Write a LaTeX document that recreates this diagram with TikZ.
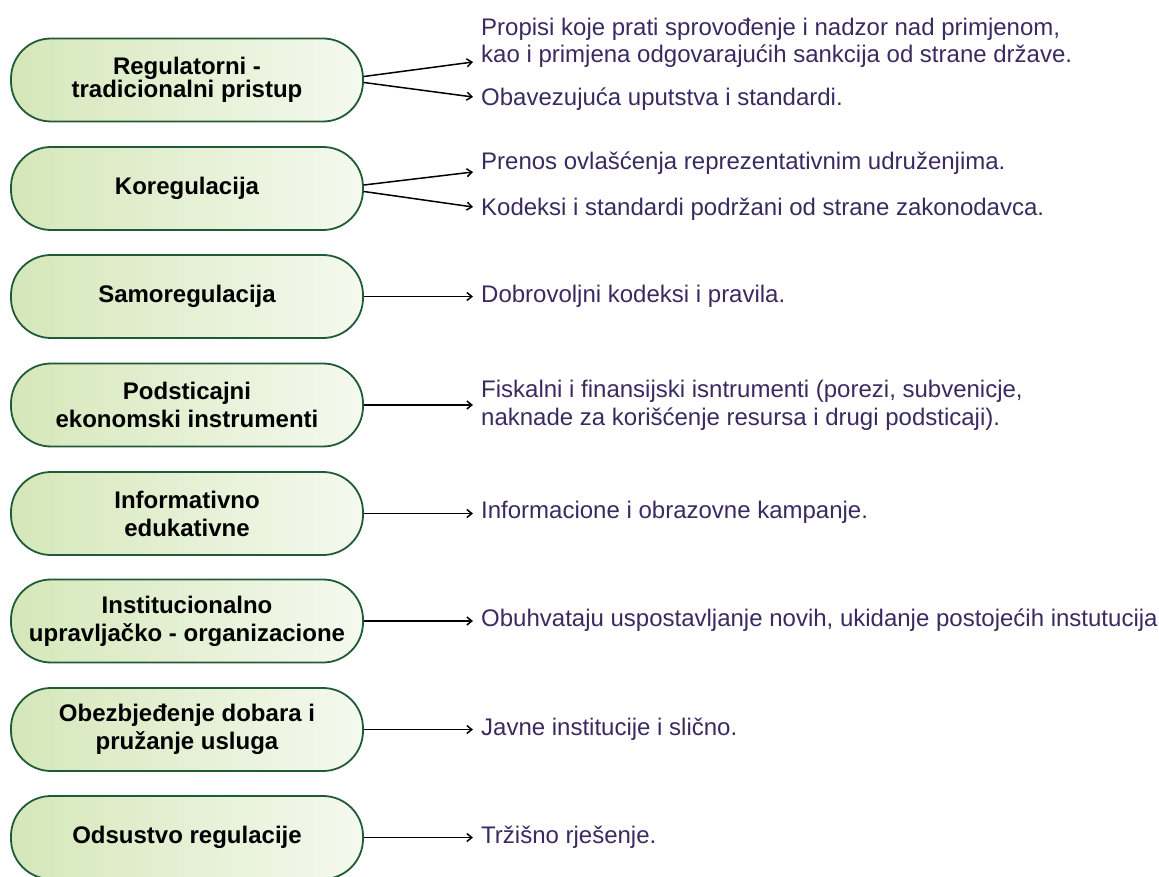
\documentclass[tikz,border=0pt]{standalone}
\usepackage{fontspec}
\setmainfont{Liberation Sans}
\usetikzlibrary{arrows.meta}
\definecolor{boxL}{RGB}{213,231,185}
\definecolor{boxR}{RGB}{245,249,239}
\definecolor{boxB}{RGB}{30,91,54}
\definecolor{txt}{RGB}{58,42,96}
\begin{document}
\begin{tikzpicture}[x=1pt,y=-1pt,
  catbox/.style={draw=boxB, line width=1.8pt, rounded corners=40pt,
    left color=boxL, right color=boxR, minimum width=352pt, minimum height=83pt,
    align=center, inner sep=0pt, font=\fontsize{24}{28}\selectfont\bfseries, text=black},
  desc/.style={anchor=base west, inner sep=0pt, align=left, text=txt,
    font=\fontsize{24}{27.5}\selectfont},
  conn/.style={line width=1.5pt, -{Straight Barb[length=5pt,width=8pt]}}]
\useasboundingbox (0,0) rectangle (1159,877);
% boxes
\node[catbox, font=\fontsize{24}{23.5}\selectfont\bfseries] (b1) at (187,80) {Regulatorni -\\tradicionalni pristup};
\node[catbox] (b2) at (187,188.5) {Koregulacija};
\node[catbox] (b3) at (187,296.5) {Samoregulacija};
\node[catbox] (b4) at (187,405) {Podsticajni\\ekonomski instrumenti};
\node[catbox] (b5) at (187,513.5) {Informativno\\edukativne};
\node[catbox] (b6) at (187,621) {Institucionalno\\upravljačko - organizacione};
\node[catbox] (b7) at (187,729.5) {Obezbjeđenje dobara i\\pružanje usluga};
\node[catbox] (b8) at (187,837.5) {Odsustvo regulacije};
% descriptions
\node[desc] (d1a) at (481,63) {Propisi koje prati sprovođenje i nadzor nad primjenom,\\kao i primjena odgovarajućih sankcija od strane države.};
\node[desc] (d1b) at (481,106) {Obavezujuća uputstva i standardi.};
\node[desc] (d2a) at (481,170) {Prenos ovlašćenja reprezentativnim udruženjima.};
\node[desc] (d2b) at (481,216) {Kodeksi i standardi podržani od strane zakonodavca.};
\node[desc] (d3) at (481,302) {Dobrovoljni kodeksi i pravila.};
\node[desc] (d4) at (481,425) {Fiskalni i finansijski isntrumenti (porezi, subvenicje,\\naknade za korišćenje resursa i drugi podsticaji).};
\node[desc] (d5) at (481,518) {Informacione i obrazovne kampanje.};
\node[desc] (d6) at (481,626) {Obuhvataju uspostavljanje novih, ukidanje postojećih instutucija};
\node[desc] (d7) at (481,735) {Javne institucije i slično.};
\node[desc] (d8) at (481,843) {Tržišno rješenje.};
% arrow targets
\coordinate (e1a) at (473,62);
\coordinate (e1b) at (473,97);
\coordinate (e2a) at (473,172);
\coordinate (e2b) at (473,207);
\coordinate (e3) at (473,296.5);
\coordinate (e4) at (473,405);
\coordinate (e5) at (473,513.5);
\coordinate (e6) at (473,621);
\coordinate (e7) at (473,729.5);
\coordinate (e8) at (473,837.5);
% connectors
\draw[conn] ([yshift=3.5pt]b1.east) -- (e1a);
\draw[conn] ([yshift=-2.5pt]b1.east) -- (e1b);
\draw[conn] ([yshift=3.5pt]b2.east) -- (e2a);
\draw[conn] ([yshift=-3pt]b2.east) -- (e2b);
\draw[conn] (b3.east) -- (e3);
\draw[conn] (b4.east) -- (e4);
\draw[conn] (b5.east) -- (e5);
\draw[conn] (b6.east) -- (e6);
\draw[conn] (b7.east) -- (e7);
\draw[conn] (b8.east) -- (e8);
\end{tikzpicture}
\end{document}
